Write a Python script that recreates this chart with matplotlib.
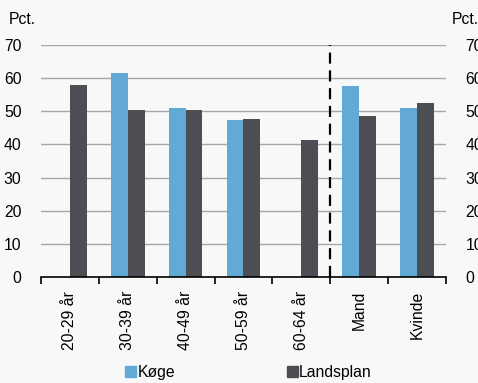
import matplotlib
matplotlib.use("Agg")
import matplotlib.pyplot as plt
import numpy as np
from matplotlib.patches import Patch

categories = ["20-29 år", "30-39 år", "40-49 år", "50-59 år", "60-64 år", "Mand", "Kvinde"]
koege = [np.nan, 61.6, 51.0, 47.4, np.nan, 57.5, 50.9]
landsplan = [57.8, 50.4, 50.3, 47.7, 41.2, 48.6, 52.5]
yticks = [0, 10, 20, 30, 40, 50, 60, 70]

plt.rcParams['font.family'] = ['Liberation Sans', 'DejaVu Sans']
bg = '#f7f8f8'
c_k = '#62aad5'
c_l = '#4d4e53'
fs = 11.3

fig = plt.figure(figsize=(4.78, 3.83), dpi=100, facecolor=bg)
ax = fig.add_axes([41/478, 1-277/383, 405/478, 232/383], facecolor=bg)

x = np.arange(len(categories))
w = 0.29
ax.bar(x - w/2, koege, width=w, color=c_k, zorder=3)
ax.bar(x + w/2, landsplan, width=w, color=c_l, zorder=3)

ax.set_xlim(-0.5, len(categories) - 0.5)
ax.set_ylim(0, 70)
ax.set_yticks(yticks)
ax.tick_params(axis='y', length=0, pad=14, labelsize=fs, labelleft=True, labelright=True)
for t in yticks[1:]:
    ax.axhline(t, color='#a6a6a6', lw=1, zorder=1)

ax.set_xticks(np.arange(len(categories) + 1) - 0.5, minor=False)
ax.set_xticklabels([''] * (len(categories) + 1))
ax.tick_params(axis='x', length=5, width=1.2, color='black', direction='out')
ax.set_xticks(x, minor=True)
ax.set_xticklabels(categories, minor=True, rotation=90, fontsize=fs, va='top', ha='center')
ax.tick_params(axis='x', which='minor', length=0, pad=10)

for s in ['top', 'left', 'right']:
    ax.spines[s].set_visible(False)
ax.spines['bottom'].set_color('black')
ax.spines['bottom'].set_linewidth(1.2)
ax.spines['bottom'].set_zorder(4)

ax.axvline(4.5, color='black', lw=1.6, ls=(0, (5, 3)), zorder=4)

fig.text(9/478, 1-19/383, 'Pct.', fontsize=fs, va='center', ha='left')
fig.text(452/478, 1-19/383, 'Pct.', fontsize=fs, va='center', ha='left')

handles = [Patch(color=c_k, label='Køge'), Patch(color=c_l, label='Landsplan')]
fig.legend(handles=handles, loc='center', bbox_to_anchor=(248.5/478, 1-372/383), ncol=2,
           frameon=False, fontsize=fs, handlelength=0.7, handleheight=0.7,
           handletextpad=0.1, columnspacing=7.1, borderpad=0, borderaxespad=0)

fig.savefig('out.png', dpi=100, facecolor=bg)
